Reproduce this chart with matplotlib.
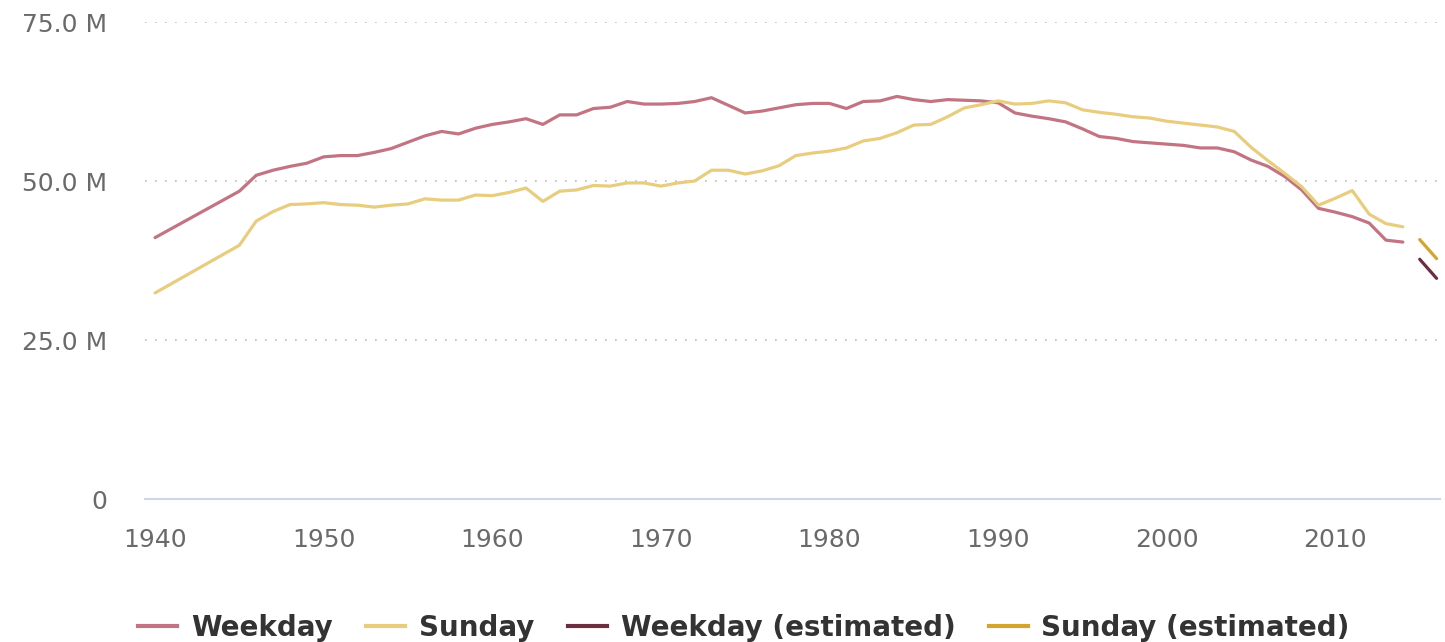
import matplotlib
matplotlib.use("Agg")
import matplotlib.pyplot as plt
from matplotlib.lines import Line2D
from matplotlib.ticker import FuncFormatter

# --- Data (millions of copies) ---
years = [1940, 1945] + list(range(1946, 2015))
weekday = [41.1, 48.4, 50.9, 51.7, 52.3, 52.8, 53.8, 54.0, 54.0, 54.5, 55.1,
           56.1, 57.1, 57.8, 57.4, 58.3, 58.9, 59.3, 59.8, 58.9, 60.4,
           60.4, 61.4, 61.6, 62.5, 62.1, 62.1, 62.2, 62.5, 63.1, 61.9,
           60.7, 61.0, 61.5, 62.0, 62.2, 62.2, 61.4, 62.5, 62.6, 63.3,
           62.8, 62.5, 62.8, 62.7, 62.6, 62.3, 60.7, 60.2, 59.8, 59.3,
           58.2, 57.0, 56.7, 56.2, 56.0, 55.8, 55.6, 55.2, 55.2, 54.6,
           53.3, 52.3, 50.7, 48.6, 45.7, 45.1, 44.4, 43.4, 40.7, 40.4]
sunday = [32.4, 39.9, 43.7, 45.2, 46.3, 46.4, 46.6, 46.3, 46.2, 45.9, 46.2,
          46.4, 47.2, 47.0, 47.0, 47.8, 47.7, 48.2, 48.9, 46.8, 48.4,
          48.6, 49.3, 49.2, 49.7, 49.7, 49.2, 49.7, 50.0, 51.7, 51.7,
          51.1, 51.6, 52.4, 54.0, 54.4, 54.7, 55.2, 56.3, 56.7, 57.6,
          58.8, 58.9, 60.1, 61.5, 62.0, 62.6, 62.1, 62.2, 62.6, 62.3,
          61.2, 60.8, 60.5, 60.1, 59.9, 59.4, 59.1, 58.8, 58.5, 57.8,
          55.3, 53.2, 51.2, 49.1, 46.2, 47.3, 48.5, 44.8, 43.3, 42.8]
est_years = [2015, 2016]
weekday_est = [37.7, 34.7]
sunday_est = [40.8, 37.8]

labels = ["Weekday", "Sunday", "Weekday (estimated)", "Sunday (estimated)"]
colors = ["#c27483", "#e8cd7e", "#6c2e3e", "#d4a52e"]

fig = plt.figure(figsize=(14.45, 6.42), dpi=100)
ax = fig.add_axes([0.1003, 0.2227, 0.8962, 0.743])

ax.plot(years, weekday, color=colors[0], lw=2.3, solid_capstyle="round")
ax.plot(years, sunday, color=colors[1], lw=2.3, solid_capstyle="round")
ax.plot(est_years, weekday_est, color=colors[2], lw=2.3, solid_capstyle="round")
ax.plot(est_years, sunday_est, color=colors[3], lw=2.3, solid_capstyle="round")

ax.set_xlim(1939.4, 2016.2)
ax.set_ylim(0, 75)
ax.set_yticks([0, 25, 50, 75])
ax.yaxis.set_major_formatter(FuncFormatter(lambda v, p: "0" if v == 0 else f"{v:.1f} M"))
ax.set_xticks(range(1940, 2020, 10))

for s in ["top", "right", "left"]:
    ax.spines[s].set_visible(False)
ax.spines["bottom"].set_color("#ccd6eb")
ax.spines["bottom"].set_linewidth(1.5)

# dotted grid lines
for y in [25, 50, 75]:
    ax.axhline(y, color="#bbbbbb", lw=1.2, ls=(0, (1, 5)), zorder=0)

ax.tick_params(axis="both", length=0, labelsize=18, colors="#6a6a6a")
ax.tick_params(axis="y", pad=27)
ax.tick_params(axis="x", pad=21)

handles = [Line2D([0], [0], color=c, lw=3) for c in colors]
fig.legend(handles, labels, loc="center", bbox_to_anchor=(0.515, 0.022),
           ncol=4, frameon=False, handlelength=1.4, handletextpad=0.5,
           columnspacing=1.2, prop={"weight": "bold", "size": 20},
           labelcolor="#333333")

fig.savefig("out.png", dpi=100)
